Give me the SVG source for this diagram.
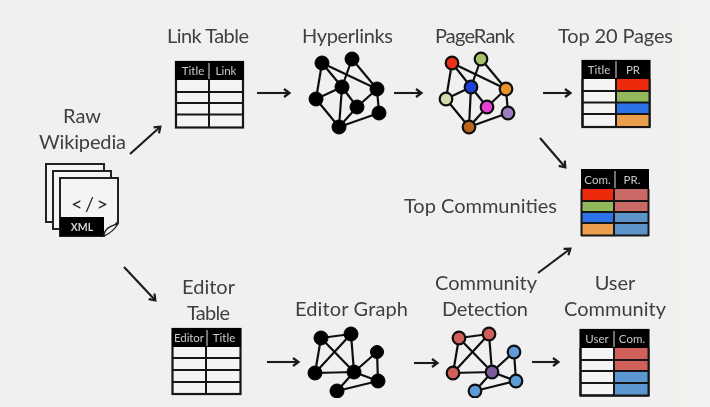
<svg xmlns="http://www.w3.org/2000/svg" width="710" height="407" viewBox="0 0 710 407">
<style>
text{font-family:Lato,"Open Sans",sans-serif}
.lb{font-size:20px;fill:#404040;text-anchor:middle}
.th{font-size:11.500px;fill:#c8c8c8;text-anchor:middle}
.grid{stroke:#151515;stroke-width:2;fill:none}
.box{stroke:#151515;stroke-width:2.200;fill:#f4f4f4}
.sep{stroke:#bdbdbd;stroke-width:1.200}
.hd{fill:#000}
.e{stroke:#111;stroke-width:2.200;fill:none}
.n{stroke:#111;stroke-width:2.200}
.k{fill:#000;stroke:#000;stroke-width:1}
.a{stroke:#1a1a1a;stroke-width:2.100;fill:none;marker-end:url(#ah)}
.doc{fill:#f4f4f4;stroke:#222;stroke-width:2}
</style>
<defs>
<marker id="ah" markerUnits="userSpaceOnUse" markerWidth="14" markerHeight="14" refX="9" refY="7" orient="auto">
<path d="M4 3 L9.500 7 L4 11" fill="none" stroke="#1a1a1a" stroke-width="2.200"/>
</marker>
<filter id="soft" x="0" y="0" width="100%" height="100%"><feGaussianBlur stdDeviation="0.45"/></filter>
</defs>
<rect width="710" height="407" fill="#f0f0f0"/>
<rect x="676" y="18" width="5" height="389" fill="#f2f2ea"/>
<rect x="681" y="0" width="29" height="407" fill="#f2f2f2"/>
<g filter="url(#soft)">
<g id="connectors">
<path class="a" d="M130 154 L160 127"/>
<path class="a" d="M124 267 L155 300"/>
<path class="a" d="M257 93 L289 93"/>
<path class="a" d="M394 93 L421 93"/>
<path class="a" d="M543 93 L570 93"/>
<path class="a" d="M540 138 L565 167"/>
<path class="a" d="M538 273 L570 249"/>
<path class="a" d="M267 362 L298 362"/>
<path class="a" d="M414 363 L437 363"/>
<path class="a" d="M532 362 L558 362"/>
</g>
<g id="raw-wikipedia">
<text class="lb" x="82" y="123">Raw</text>
<text class="lb" x="82.500" y="149" textLength="87">Wikipedia</text>
<rect class="doc" x="46" y="164" width="58" height="58"/>
<rect class="doc" x="53" y="171" width="58" height="58"/>
<path class="doc" d="M60 178 H118 V222 L104 236 H60 Z"/>
<rect x="60" y="217" width="44" height="19" fill="#000"/>
<path d="M104 236 Q104 227 118 224 Q113 232 104 236 Z" fill="#f4f4f4" stroke="#222" stroke-width="1.300"/>
<text x="89.500" y="211" font-size="20" fill="#2a2a2a" text-anchor="middle" textLength="37">&lt;/&gt;</text>
<text x="82" y="231" font-size="10.500" font-weight="700" fill="#d0d0d0" text-anchor="middle">XML</text>
</g>
<g id="link-table">
<text class="lb" x="208" y="43" textLength="82">Link Table</text>
<rect class="box" x="176" y="62" width="67" height="65.500"/>
<rect class="hd" x="175" y="61" width="69" height="19"/>
<path class="grid" d="M176 92H243M176 103H243M176 114.500H243M209 80V127"/>
<path class="sep" d="M209 63V79"/>
<text class="th" x="193" y="75">Title</text>
<text class="th" x="226" y="75">Link</text>
</g>
<g id="hyperlinks">
<text class="lb" x="347.500" y="43" textLength="91">Hyperlinks</text>
<path class="e" d="M322 63L342 87M322 63L316 99M322 63L377 89M352 59L342 87M352 59L377 89M342 87L316 99M342 87L339 127M342 87L357 107M316 99L339 127M357 107L377 89M357 107L339 127M377 89L379 113M379 113L339 127"/>
<g class="k"><circle cx="322" cy="63" r="7"/><circle cx="352" cy="59" r="7"/><circle cx="342" cy="87" r="7"/><circle cx="377" cy="89" r="7"/><circle cx="316" cy="99" r="7"/><circle cx="357" cy="107" r="7"/><circle cx="379" cy="113" r="7"/><circle cx="339" cy="127" r="7"/></g>
</g>
<g id="pagerank">
<text class="lb" x="475" y="43" textLength="80">PageRank</text>
<path class="e" d="M452 63L471 87M452 63L446 99M452 63L506 89M481 59L471 87M481 59L506 89M471 87L446 99M471 87L469 127M471 87L487 107M446 99L469 127M487 107L506 89M487 107L469 127M506 89L508 113M508 113L469 127"/>
<g class="n"><circle cx="452" cy="63" r="6.300" fill="#e8301a"/><circle cx="481" cy="59" r="6.300" fill="#a9c06d"/><circle cx="471" cy="87" r="6.300" fill="#1c3fdc"/><circle cx="506" cy="89" r="6.300" fill="#e8902a"/><circle cx="446" cy="99" r="6.300" fill="#d3dcae"/><circle cx="487" cy="107" r="6.300" fill="#e83fd0"/><circle cx="508" cy="113" r="6.300" fill="#9a7ec0"/><circle cx="469" cy="127" r="6.300" fill="#b8651c"/></g>
</g>
<g id="top-20-pages">
<text class="lb" x="615.500" y="43" textLength="115">Top 20 Pages</text>
<rect class="box" x="582.500" y="61" width="67" height="66"/>
<rect class="hd" x="582" y="60" width="68" height="19"/>
<rect x="616" y="79" width="34" height="12" fill="#ee2a0c"/>
<rect x="616" y="91" width="34" height="12" fill="#93b85c"/>
<rect x="616" y="103" width="34" height="11" fill="#2f72e8"/>
<rect x="616" y="114" width="34" height="13" fill="#eb9f4e"/>
<path class="grid" d="M582 91H650M582 102.500H650M582 114H650M616 79V127M582.500 79V127M649.500 79V127M582 127H650"/>
<path class="sep" d="M616 61V78"/>
<text class="th" x="599" y="74">Title</text>
<text class="th" x="633" y="74">PR</text>
</g>
<g id="top-communities">
<text class="lb" x="480.500" y="213" textLength="153">Top Communities</text>
<rect class="hd" x="581" y="169" width="68" height="20"/>
<rect x="581" y="189" width="33" height="12" fill="#ee2a0c"/>
<rect x="581" y="201" width="33" height="11" fill="#93b85c"/>
<rect x="581" y="212" width="33" height="11" fill="#2f72e8"/>
<rect x="581" y="223" width="33" height="13" fill="#eb9f4e"/>
<rect x="614" y="189" width="35" height="12" fill="#c96a66"/>
<rect x="614" y="201" width="35" height="11" fill="#c96a66"/>
<rect x="614" y="212" width="35" height="11" fill="#5b93c8"/>
<rect x="614" y="223" width="35" height="13" fill="#5b93c8"/>
<path class="grid" d="M581 201H649M581 212H649M581 223H649M614 189V236M581.500 189V236M648.500 189V236M581 235.500H649"/>
<path class="sep" d="M615 171V188"/>
<text class="th" x="597.500" y="184">Com.</text>
<text class="th" x="632" y="184">PR.</text>
</g>
<g id="editor-table">
<text class="lb" x="208.500" y="294" textLength="53">Editor</text>
<text class="lb" x="208.500" y="320" textLength="43">Table</text>
<rect class="box" x="172.500" y="329" width="68" height="65"/>
<rect class="hd" x="172" y="328" width="69" height="19"/>
<path class="grid" d="M172 358H241M172 370H241M172 382H241M206 347V394"/>
<path class="sep" d="M207 330V346"/>
<text class="th" x="189" y="342" textLength="30">Editor</text>
<text class="th" x="224" y="342">Title</text>
</g>
<g id="editor-graph">
<text class="lb" x="351.500" y="316" textLength="113">Editor Graph</text>
<path class="e" d="M321 338L351 334M321 338L315 373M321 338L354 372M351 334L315 373M351 334L354 372M315 373L354 372M354 372L377 352M377 352L378 381M354 372L378 381M354 372L337 391M337 391L378 381"/>
<g class="k"><circle cx="321" cy="338" r="7"/><circle cx="351" cy="334" r="7"/><circle cx="315" cy="373" r="7"/><circle cx="354" cy="372" r="7"/><circle cx="377" cy="352" r="6.500"/><circle cx="378" cy="381" r="7"/><circle cx="337" cy="391" r="7"/></g>
</g>
<g id="community-detection">
<text class="lb" x="486" y="290" textLength="102">Community</text>
<text class="lb" x="485" y="316" textLength="86">Detection</text>
<path class="e" d="M459 338L489 334M459 338L453 373M459 338L492 372M489 334L453 373M489 334L492 372M453 373L492 372M492 372L514 352M514 352L516 381M492 372L516 381M492 372L475 391M475 391L516 381"/>
<g class="n"><circle cx="459" cy="338" r="6.300" fill="#d2605a"/><circle cx="489" cy="334" r="6.300" fill="#d2605a"/><circle cx="453" cy="373" r="6.300" fill="#d2605a"/><circle cx="492" cy="372" r="6.300" fill="#7a5a9a"/><circle cx="514" cy="352" r="6.300" fill="#5b9bd5"/><circle cx="516" cy="381" r="6.300" fill="#5b9bd5"/><circle cx="475" cy="391" r="6.300" fill="#5b9bd5"/></g>
</g>
<g id="user-community">
<text class="lb" x="615" y="290">User</text>
<text class="lb" x="615" y="316" textLength="102">Community</text>
<rect class="box" x="580.500" y="330" width="68" height="65.500"/>
<rect class="hd" x="580" y="329" width="69" height="19"/>
<rect x="614" y="348" width="35" height="12" fill="#d1605a"/>
<rect x="614" y="360" width="35" height="11" fill="#d1605a"/>
<rect x="614" y="371" width="35" height="12" fill="#5b97d1"/>
<rect x="614" y="383" width="35" height="13" fill="#5b97d1"/>
<path class="grid" d="M580 360H649M580 371H649M580 383H649M614 348V396M580.500 348V396M648.500 348V396M580 395.500H649"/>
<path class="sep" d="M614 331V347"/>
<text class="th" x="597" y="343">User</text>
<text class="th" x="632" y="343">Com.</text>
</g>
</g>
</svg>
